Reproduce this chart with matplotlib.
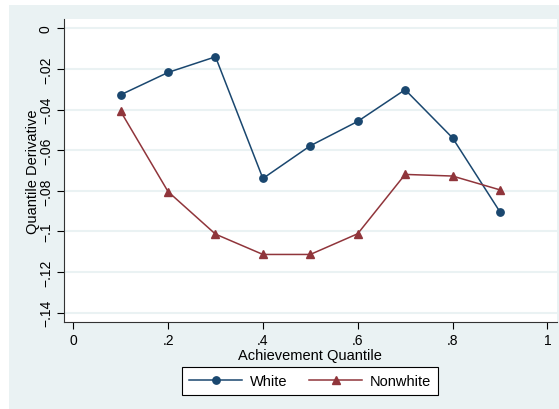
import matplotlib.pyplot as plt
from matplotlib.patches import Rectangle

quantiles = [0.1, 0.2, 0.3, 0.4, 0.5, 0.6, 0.7, 0.8, 0.9]
white = [-0.0327, -0.0217, -0.0140, -0.0739, -0.0578, -0.0458, -0.0302, -0.0539, -0.0903]
nonwhite = [-0.0409, -0.0804, -0.1013, -0.1113, -0.1113, -0.1011, -0.0719, -0.0727, -0.0795]

yticks = [0, -0.02, -0.04, -0.06, -0.08, -0.1, -0.12, -0.14]
ylabels = ["0", "\u2212.02", "\u2212.04", "\u2212.06", "\u2212.08", "\u2212.1", "\u2212.12", "\u2212.14"]
xticks = [0, 0.2, 0.4, 0.6, 0.8, 1]
xlabels = ["0", ".2", ".4", ".6", ".8", "1"]

bg = "#eaf2f3"
plt.rcParams["font.family"] = ["Liberation Sans", "DejaVu Sans"]

fig = plt.figure(figsize=(5.59, 4.10), dpi=100)
fig.patches.append(Rectangle((9 / 559, 0), 1 - 9 / 559, 1 - 6 / 410,
                             transform=fig.transFigure, facecolor=bg,
                             edgecolor="none", zorder=-10))
ax = fig.add_axes([64 / 559, 1 - 322.7 / 410, (556.7 - 64) / 559, (322.7 - 20) / 410])
ax.set_facecolor("white")

ax.plot(quantiles, white, color="#1a476f", marker="o", markersize=5.3, lw=1.1, label="White")
ax.plot(quantiles, nonwhite, color="#90353b", marker="^", markersize=5.8, lw=1.1, label="Nonwhite")

ax.set_xlim(-0.0196, 1.0198)
ax.set_ylim(-0.1444, 0.0046)
ax.set_yticks(yticks)
ax.set_yticklabels(ylabels, rotation=90, va="center")
ax.set_xticks(xticks)
ax.set_xticklabels(xlabels)
ax.tick_params(direction="out", length=5, width=0.8, labelsize=10, pad=3)
ax.grid(axis="y", color=bg, lw=1.5)
ax.set_axisbelow(True)
for s in ["top", "right"]:
    ax.spines[s].set_visible(False)
for s in ["left", "bottom"]:
    ax.spines[s].set_color("#333333")

ax.set_xlabel("Achievement Quantile", fontsize=10.5, labelpad=1)
ax.set_ylabel("Quantile Derivative", fontsize=10.5, labelpad=-1)

leg = fig.legend(loc="center", bbox_to_anchor=(310.3 / 559, 1 - 382 / 410), ncol=2,
                 fancybox=False, framealpha=1, edgecolor="black", fontsize=10.5,
                 handlelength=3.6, handletextpad=0.55, columnspacing=1.5, borderpad=0.5)
leg.get_frame().set_linewidth(0.8)

fig.savefig("out.png", dpi=100)
